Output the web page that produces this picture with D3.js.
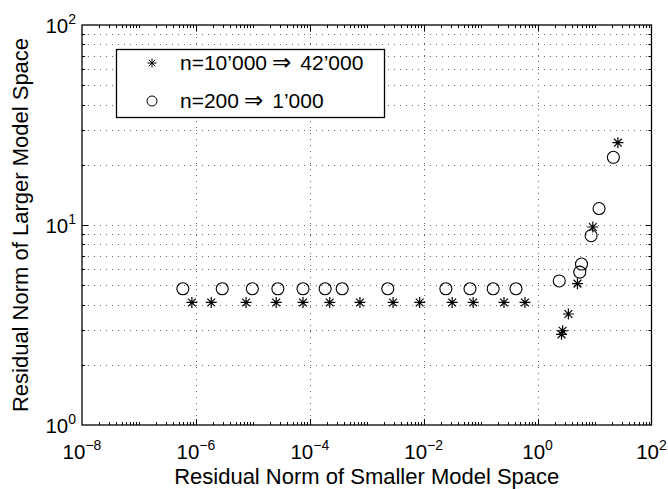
<!DOCTYPE html>
<html><head><meta charset="utf-8">
<script src="https://cdn.jsdelivr.net/npm/d3@7"></script>
<style>body{margin:0;background:#fff} svg{display:block} text{font-family:"Liberation Sans",Arial,sans-serif;fill:#000}</style>
</head><body><svg id="c" width="668" height="489"></svg>
<script>
// ---- data ----
const xTickExps = [-8, -6, -4, -2, 0, 2];
const yTickExps = [0, 1, 2];
const xLabel = "Residual Norm of Smaller Model Space";
const yLabel = "Residual Norm of Larger Model Space";
const seriesNames = ["n=10’000 ⇒ 42’000", "n=200 ⇒ 1’000"];
// n=10'000 -> 42'000 (asterisks)
const starX = [8.5e-7, 1.86e-6, 7.6e-6, 2.57e-5, 7.6e-5, 2.24e-4, 7.6e-4, 2.9e-3, 8.5e-3, 3.16e-2, 7.4e-2, 0.257, 0.60,
               2.63, 2.75, 3.47, 5.01, 9.33, 25.7];
const starY = [4.1, 4.1, 4.1, 4.1, 4.1, 4.1, 4.1, 4.1, 4.1, 4.1, 4.1, 4.1, 4.1,
               2.84, 2.96, 3.59, 5.09, 9.77, 25.8];
// n=200 -> 1'000 (circles)
const circX = [5.9e-7, 2.9e-6, 9.8e-6, 2.75e-5, 7.6e-5, 1.86e-4, 3.7e-4, 2.34e-3, 2.45e-2, 6.5e-2, 0.166, 0.417,
               2.4, 5.5, 5.9, 8.7, 12.0, 21.4];
const circY = [4.8, 4.8, 4.8, 4.8, 4.8, 4.8, 4.8, 4.8, 4.8, 4.8, 4.8, 4.8,
               5.25, 5.81, 6.38, 8.84, 12.09, 21.8];

// ---- layout ----
const L = 82, R = 651.5, T = 25, B = 425;
const svg = d3.select("#c");
const x = d3.scaleLog().domain([1e-8, 1e2]).range([L, R]);
const y = d3.scaleLog().domain([1, 100]).range([B, T]);

// grid
const gridY = [];
for (let e = 0; e < 2; e++) for (let k = 1; k <= 9; k++) { const v = k * Math.pow(10, e); if (v > 1 && v < 100) gridY.push(v); }
const gridX = xTickExps.map(e => Math.pow(10, e)).filter(v => v > 1e-8 && v < 1e2);
const g = svg.append("g").attr("stroke", "#666").attr("stroke-width", 1).attr("stroke-dasharray", "1,5");
g.selectAll(".gy").data(gridY).enter().append("line")
  .attr("x1", L).attr("x2", R).attr("y1", d => Math.round(y(d)) + 0.5).attr("y2", d => Math.round(y(d)) + 0.5);
g.selectAll(".gx").data(gridX).enter().append("line")
  .attr("y1", T).attr("y2", B).attr("x1", d => Math.round(x(d)) + 0.5).attr("x2", d => Math.round(x(d)) + 0.5);

// ticks (inside, all four sides)
const tk = svg.append("g").attr("stroke", "#000").attr("stroke-width", 1);
const xMinor = [];
for (let e = -8; e < 2; e++) for (let k = 1; k <= 9; k++) { const v = k * Math.pow(10, e); if (v > 1e-8 && v < 1e2) xMinor.push({ v, major: k === 1 && xTickExps.includes(e) }); }
xMinor.forEach(d => {
  const px = Math.round(x(d.v)) + 0.5, len = d.major ? 6 : 3;
  tk.append("line").attr("x1", px).attr("x2", px).attr("y1", B).attr("y2", B - len);
  tk.append("line").attr("x1", px).attr("x2", px).attr("y1", T).attr("y2", T + len);
});
gridY.forEach(v => {
  const py = Math.round(y(v)) + 0.5, len = (v === 10) ? 6 : 3;
  tk.append("line").attr("y1", py).attr("y2", py).attr("x1", L).attr("x2", L + len);
  tk.append("line").attr("y1", py).attr("y2", py).attr("x1", R).attr("x2", R - len);
});

// box
svg.append("rect").attr("x", L).attr("y", T).attr("width", R - L).attr("height", B - T)
  .attr("fill", "none").attr("stroke", "#000").attr("stroke-width", 1.3);

// tick labels
const fs = 20.5, sfs = 14;
xTickExps.forEach(e => {
  const t = svg.append("text").attr("x", x(Math.pow(10, e))).attr("y", 459).attr("text-anchor", "middle").style("font-size", fs + "px");
  t.append("tspan").text("10");
  t.append("tspan").attr("dy", -9).style("font-size", sfs + "px").text(String(e).replace("-", "−"));
});
yTickExps.forEach(e => {
  const t = svg.append("text").attr("x", 76).attr("y", y(Math.pow(10, e)) + 7.5).attr("text-anchor", "end").style("font-size", fs + "px");
  t.append("tspan").text("10");
  t.append("tspan").attr("dy", -9).style("font-size", sfs + "px").text(String(e));
});

// axis labels
svg.append("text").attr("x", (L + R) / 2).attr("y", 484).attr("text-anchor", "middle").style("font-size", "22px").text(xLabel);
svg.append("text").attr("transform", `translate(28,${(T + B) / 2}) rotate(-90)`).attr("text-anchor", "middle").style("font-size", "22px").text(yLabel);

// markers
function starPath(cx, cy, r) {
  const d = r * Math.SQRT1_2;
  return `M${cx - r},${cy}L${cx + r},${cy}M${cx},${cy - r}L${cx},${cy + r}M${cx - d},${cy - d}L${cx + d},${cy + d}M${cx - d},${cy + d}L${cx + d},${cy - d}`;
}
const stars = starX.map((v, i) => ({ x: v, y: starY[i] }));
const circs = circX.map((v, i) => ({ x: v, y: circY[i] }));
svg.append("g").selectAll("circle").data(circs).enter().append("circle")
  .attr("cx", d => x(d.x)).attr("cy", d => y(d.y)).attr("r", 6)
  .attr("fill", "none").attr("stroke", "#000").attr("stroke-width", 1.1);
svg.append("g").selectAll("path").data(stars).enter().append("path")
  .attr("d", d => starPath(x(d.x), y(d.y), 5.5))
  .attr("fill", "none").attr("stroke", "#000").attr("stroke-width", 1.2);

// legend
const lg = svg.append("g");
lg.append("rect").attr("x", 116.5).attr("y", 49.5).attr("width", 268).attr("height", 68)
  .attr("fill", "#fff").attr("stroke", "#000").attr("stroke-width", 1.3);
lg.append("path").attr("d", starPath(152, 63, 4.5)).attr("fill", "none").attr("stroke", "#000").attr("stroke-width", 1);
lg.append("circle").attr("cx", 152).attr("cy", 101).attr("r", 5).attr("fill", "none").attr("stroke", "#000").attr("stroke-width", 1);
seriesNames.forEach((s, i) => {
  const parts = s.split(" ⇒ ");
  const t = lg.append("text").attr("x", 180).attr("y", [70, 108][i]).style("font-size", "21px");
  t.append("tspan").text(parts[0]);
  t.append("tspan").attr("dx", 5).style("font-family", "'DejaVu Sans',sans-serif").style("font-size", "23px").text("⇒");
  t.append("tspan").attr("dx", 9).text(parts[1]);
});
</script></body></html>
